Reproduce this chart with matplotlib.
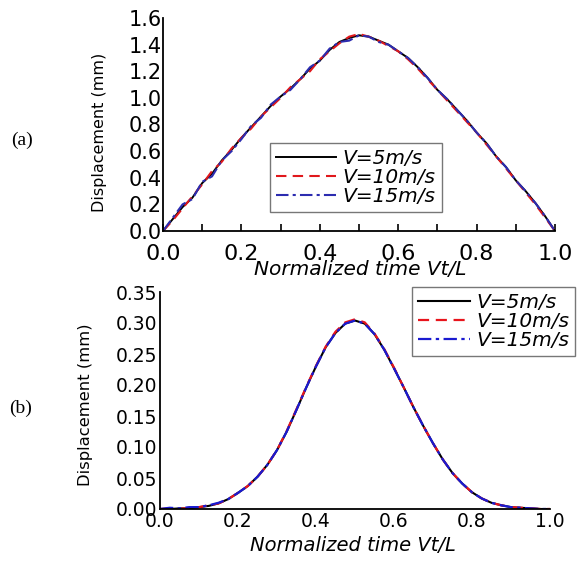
import numpy as np
import matplotlib
matplotlib.use("Agg")
import matplotlib.pyplot as plt

# normalized time Vt/L, shared by both panels
t = np.round(np.arange(0, 1.0001, 0.025), 3)

# (a) displacement (mm)
disp_a_5 = [0, 0.09, 0.18, 0.25, 0.36, 0.43, 0.53, 0.61, 0.70, 0.78, 0.86, 0.94, 1.01, 1.07,
            1.14, 1.22, 1.28, 1.36, 1.42, 1.45, 1.47, 1.46, 1.43, 1.40, 1.35, 1.30, 1.23,
            1.15, 1.06, 0.99, 0.91, 0.83, 0.74, 0.66, 0.56, 0.48, 0.38, 0.30, 0.21, 0.11, 0.0]
disp_a_10 = [0, 0.08, 0.17, 0.26, 0.35, 0.45, 0.52, 0.62, 0.70, 0.77, 0.86, 0.93, 1.00, 1.08,
             1.14, 1.20, 1.29, 1.35, 1.41, 1.46, 1.48, 1.46, 1.43, 1.39, 1.35, 1.29, 1.22,
             1.14, 1.06, 0.98, 0.90, 0.82, 0.74, 0.65, 0.56, 0.47, 0.38, 0.29, 0.20, 0.10, 0.0]
disp_a_15 = [0, 0.10, 0.20, 0.24, 0.37, 0.41, 0.53, 0.60, 0.69, 0.79, 0.85, 0.95, 1.01, 1.06,
             1.14, 1.23, 1.28, 1.37, 1.42, 1.43, 1.47, 1.46, 1.42, 1.40, 1.35, 1.30, 1.23,
             1.15, 1.06, 0.99, 0.91, 0.83, 0.74, 0.66, 0.56, 0.48, 0.38, 0.30, 0.21, 0.11, 0.0]

# (b) displacement (mm)
disp_b_5 = [0, 0.000, 0.001, 0.001, 0.003, 0.005, 0.009, 0.016, 0.026, 0.037, 0.052, 0.071,
            0.095, 0.125, 0.160, 0.196, 0.230, 0.261, 0.284, 0.299, 0.304, 0.299, 0.282,
            0.257, 0.227, 0.196, 0.164, 0.134, 0.106, 0.080, 0.058, 0.041, 0.027, 0.017,
            0.010, 0.006, 0.003, 0.002, 0.001, 0.000, 0.0]
disp_b_10 = [0, 0.001, 0.000, 0.002, 0.003, 0.006, 0.009, 0.016, 0.026, 0.037, 0.052, 0.071,
             0.095, 0.126, 0.161, 0.197, 0.231, 0.262, 0.286, 0.301, 0.306, 0.301, 0.283,
             0.258, 0.228, 0.196, 0.164, 0.134, 0.106, 0.080, 0.058, 0.041, 0.027, 0.017,
             0.010, 0.006, 0.003, 0.002, 0.001, 0.000, 0.0]
disp_b_15 = [0, 0.002, 0.001, 0.003, 0.003, 0.006, 0.010, 0.016, 0.026, 0.037, 0.052, 0.071,
             0.095, 0.125, 0.160, 0.196, 0.230, 0.261, 0.284, 0.299, 0.304, 0.299, 0.282,
             0.257, 0.227, 0.196, 0.164, 0.134, 0.106, 0.080, 0.058, 0.041, 0.027, 0.017,
             0.010, 0.006, 0.003, 0.002, 0.001, 0.000, 0.0]

labels = ["V=5m/s", "V=10m/s", "V=15m/s"]

fig = plt.figure(figsize=(5.79, 5.61), dpi=100)

# ---- panel (a)
ax1 = fig.add_axes([163 / 579, 1 - 231 / 561, 392 / 579, 213 / 561])
ax1.plot(t, disp_a_5, color="black", lw=1.4, label=labels[0])
ax1.plot(t, disp_a_10, color="#e0181c", lw=1.5, ls=(0, (5, 3)), label=labels[1])
ax1.plot(t, disp_a_15, color="#2c2cb0", lw=1.5, ls=(0, (6, 2, 1.5, 2)), label=labels[2])
ax1.set_xlim(0, 1.0)
ax1.set_ylim(0, 1.6)
ax1.set_xticks(np.arange(0, 1.01, 0.2))
ax1.set_xticks(np.arange(0.1, 1.0, 0.2), minor=True)
ax1.set_yticks(np.arange(0, 1.61, 0.2))
ax1.xaxis.set_major_formatter(plt.FormatStrFormatter("%.1f"))
ax1.yaxis.set_major_formatter(plt.FormatStrFormatter("%.1f"))
ax1.tick_params(axis="x", which="both", direction="in", length=5, width=1.2, pad=9, labelsize=16)
ax1.tick_params(axis="y", length=0, pad=1, labelsize=15)
ax1.set_xlabel("Normalized time Vt/L", fontsize=14.5, style="italic", va="center")
ax1.xaxis.set_label_coords(0.503, -0.182)
ax1.set_ylabel("Displacement (mm)", fontsize=11.5, va="center")
ax1.yaxis.set_label_coords(-0.161, 0.465)
leg1 = ax1.legend(loc="upper left", bbox_to_anchor=(0.273, 0.413), borderaxespad=0,
                  fancybox=False, edgecolor="#777777", framealpha=1, labelspacing=0.0,
                  handlelength=3.0, handletextpad=0.3, borderpad=0.3,
                  prop={"size": 14.5, "style": "italic"})
leg1.get_frame().set_linewidth(1.0)

# ---- panel (b)
ax2 = fig.add_axes([160 / 579, 1 - 509 / 561, 390 / 579, 217 / 561])
ax2.plot(t, disp_b_5, color="black", lw=1.5, label=labels[0])
ax2.plot(t, disp_b_10, color="#e8141c", lw=1.6, ls=(0, (5, 3)), label=labels[1])
ax2.plot(t, disp_b_15, color="#1a1ad0", lw=1.6, ls=(0, (6, 2, 1.5, 2)), label=labels[2])
ax2.set_xlim(0, 1.0)
ax2.set_ylim(0, 0.35)
ax2.set_xticks(np.arange(0, 1.01, 0.2))
ax2.set_yticks(np.arange(0, 0.351, 0.05))
ax2.xaxis.set_major_formatter(plt.FormatStrFormatter("%.1f"))
ax2.yaxis.set_major_formatter(plt.FormatStrFormatter("%.2f"))
ax2.tick_params(axis="both", length=0, pad=2, labelsize=13.5)
ax2.set_xlabel("Normalized time Vt/L", fontsize=14, style="italic", va="center")
ax2.xaxis.set_label_coords(0.495, -0.166)
ax2.set_ylabel("Displacement (mm)", fontsize=11.8, va="center")
ax2.yaxis.set_label_coords(-0.192, 0.479)
leg2 = ax2.legend(loc="upper left", bbox_to_anchor=(0.646, 1.023), borderaxespad=0,
                  fancybox=False, edgecolor="#777777", framealpha=1, labelspacing=0.0,
                  handlelength=2.6, handletextpad=0.3, borderpad=0.3,
                  prop={"size": 14.5, "style": "italic"})
leg2.get_frame().set_linewidth(1.0)

for ax in (ax1, ax2):
    ax.spines["top"].set_visible(False)
    ax.spines["right"].set_visible(False)
    ax.spines["left"].set_linewidth(1.3)
    ax.spines["bottom"].set_linewidth(1.3)

fig.text(22 / 579, 1 - 140 / 561, "(a)", family="Liberation Serif", fontsize=14, ha="center", va="center")
fig.text(21 / 579, 1 - 408 / 561, "(b)", family="Liberation Serif", fontsize=14, ha="center", va="center")

fig.savefig("out.png", dpi=100)
